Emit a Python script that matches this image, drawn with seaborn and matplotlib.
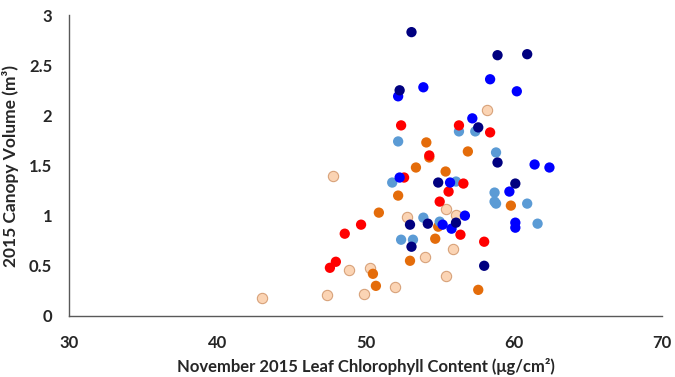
import numpy as np
import pandas as pd
import matplotlib
matplotlib.use("Agg")
import matplotlib.pyplot as plt
import seaborn as sns

navy_x = [53.1, 58.9, 60.9, 52.3, 57.6, 58.9, 60.1, 54.9, 53.0, 54.2, 56.1, 53.1, 58.0]
navy_y = [2.83, 2.60, 2.61, 2.25, 1.88, 1.53, 1.32, 1.33, 0.91, 0.92, 0.93, 0.69, 0.50]

blue_x = [52.2, 53.9, 58.4, 60.2, 57.2, 61.4, 62.4, 59.7, 55.7, 56.7, 52.3, 55.2, 55.8, 60.1, 60.1]
blue_y = [2.19, 2.28, 2.36, 2.24, 1.97, 1.51, 1.48, 1.24, 1.33, 1.00, 1.38, 0.91, 0.87, 0.93, 0.88]

lblue_x = [52.2, 56.3, 57.4, 58.8, 51.8, 56.1, 58.7, 58.7, 58.8, 60.9, 61.6, 53.9, 55.0, 52.4, 53.2]
lblue_y = [1.74, 1.84, 1.84, 1.63, 1.33, 1.34, 1.23, 1.14, 1.12, 1.12, 0.92, 0.98, 0.94, 0.76, 0.76]

red_x = [52.4, 56.3, 58.4, 54.3, 52.6, 56.6, 55.6, 55.0, 49.7, 48.6, 56.4, 58.0, 47.6, 48.0]
red_y = [1.90, 1.90, 1.83, 1.60, 1.38, 1.32, 1.24, 1.14, 0.91, 0.82, 0.81, 0.74, 0.48, 0.54]

orange_x = [54.1, 54.3, 56.9, 53.4, 55.4, 52.2, 50.9, 59.8, 54.9, 54.7, 53.0, 50.5, 50.7, 57.6]
orange_y = [1.73, 1.58, 1.64, 1.48, 1.44, 1.20, 1.03, 1.10, 0.89, 0.77, 0.55, 0.42, 0.30, 0.26]

peach_x = [58.2, 47.8, 43.0, 47.4, 48.9, 52.8, 55.4, 56.1, 55.9, 54.0, 50.3, 49.9, 52.0, 55.4]
peach_y = [2.05, 1.40, 0.18, 0.21, 0.46, 0.99, 1.07, 1.01, 0.67, 0.59, 0.48, 0.22, 0.29, 0.40]

x_ticks = [30, 40, 50, 60, 70]
y_ticks = [0, 0.5, 1, 1.5, 2, 2.5, 3]
y_tick_labels = ["0", "0.5", "1", "1.5", "2", "2.5", "3"]

groups = [
    ("peach", peach_x, peach_y, "#FBD4B4", "#D8A27A"),
    ("orange", orange_x, orange_y, "#E46C0A", "none"),
    ("lblue", lblue_x, lblue_y, "#5B9BD5", "none"),
    ("red", red_x, red_y, "#FF0000", "none"),
    ("blue", blue_x, blue_y, "#0000FF", "none"),
    ("navy", navy_x, navy_y, "#000080", "none"),
]

sns.set_style("white")
plt.rcParams["font.family"] = ["Lato", "DejaVu Sans"]

fig = plt.figure(figsize=(6.75, 3.77), dpi=100)
ax = fig.add_axes([0.102, 0.162, 0.879, 0.798])

for name, xs, ys, fc, ec in groups:
    df = pd.DataFrame({"x": xs, "y": ys})
    sns.scatterplot(data=df, x="x", y="y", ax=ax, s=55, color=fc,
                    edgecolor=ec, linewidth=0.8 if ec != "none" else 0,
                    legend=False, zorder=3)

ax.set_xlim(30, 70)
ax.set_ylim(0, 3)
ax.set_xticks(x_ticks)
ax.set_xticklabels([str(t) for t in x_ticks])
ax.set_yticks(y_ticks)
ax.set_yticklabels(y_tick_labels)

for s in ["top", "right"]:
    ax.spines[s].set_visible(False)
for s in ["left", "bottom"]:
    ax.spines[s].set_color("#595959")
    ax.spines[s].set_linewidth(1.0)

ax.tick_params(axis="both", which="major", direction="out", length=5,
               width=1.0, color="#595959", labelsize=12, pad=7)
ax.tick_params(axis="x", pad=9)
for lab in ax.get_xticklabels() + ax.get_yticklabels():
    lab.set_fontweight("bold")

ax.set_xlabel("November 2015 Leaf Chlorophyll Content (μg/cm²)",
              fontsize=12, fontweight="bold", labelpad=5)
ax.set_ylabel("2015 Canopy Volume (m³)", fontsize=12.5, fontweight="bold",
              labelpad=7)

fig.savefig("out.png", dpi=100)
